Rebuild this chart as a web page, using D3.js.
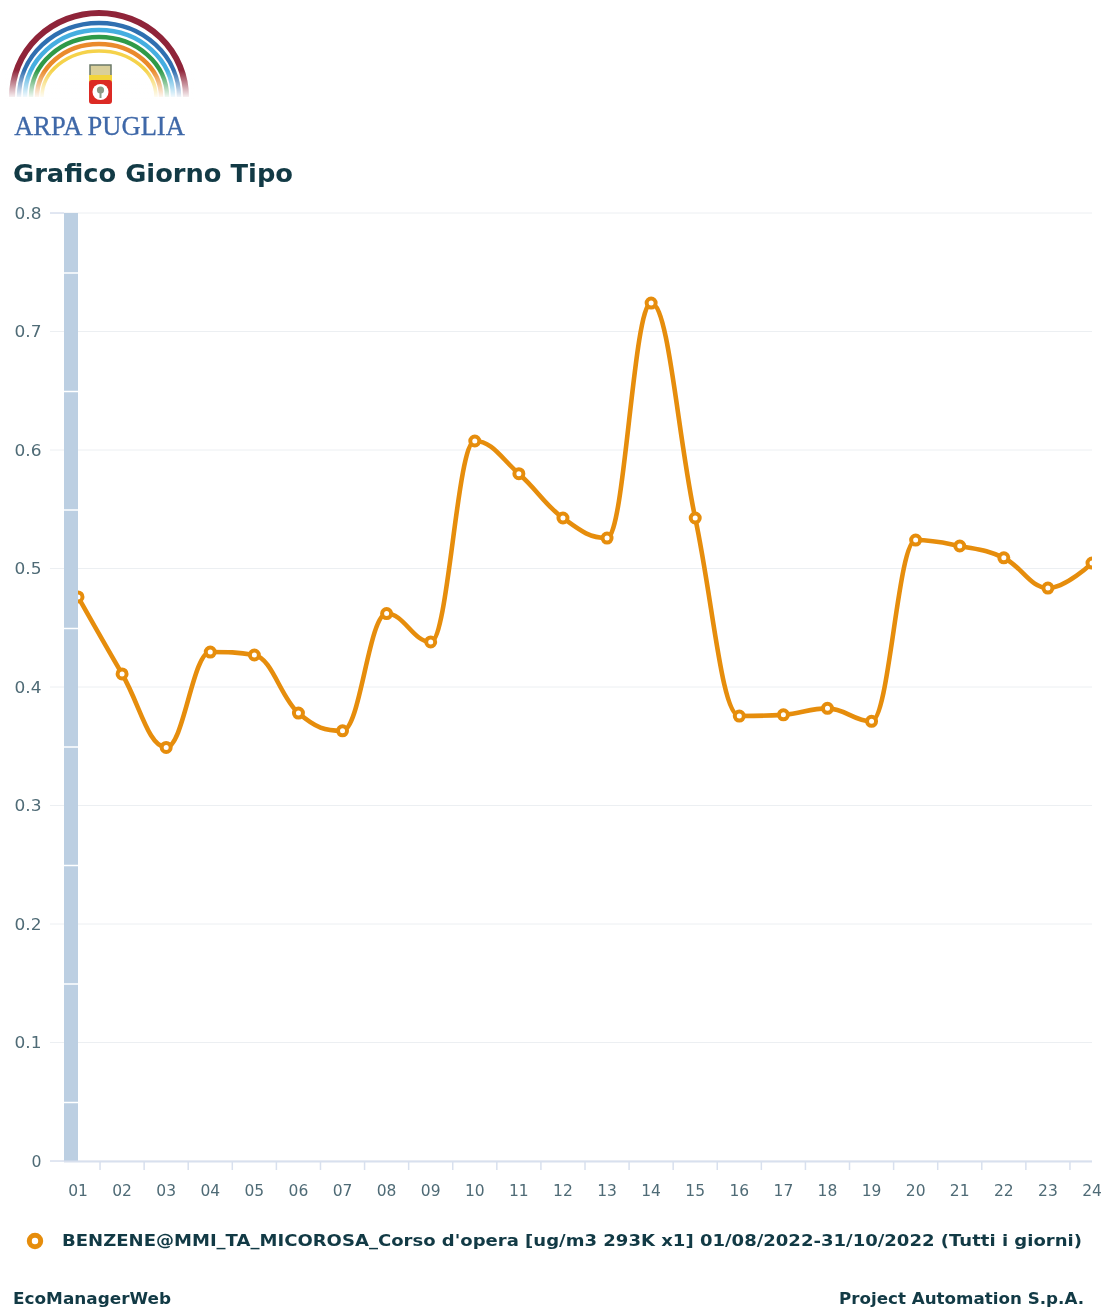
<!DOCTYPE html>
<html><head><meta charset="utf-8">
<script src="https://cdn.jsdelivr.net/npm/d3@7"></script>
<style>
html,body{margin:0;padding:0;background:#fff;overflow:hidden}
svg{display:block;font-family:"DejaVu Sans",Verdana,sans-serif;filter:blur(0.6px)}
</style></head><body>
<svg id="c" width="1107" height="1308"></svg>
<script>
const hours = ["01","02","03","04","05","06","07","08","09","10","11","12","13","14","15","16","17","18","19","20","21","22","23","24"];
const benzene = [0.476,0.411,0.349,0.4295,0.427,0.378,0.363,0.462,0.438,0.6076,0.58,0.5426,0.5257,0.724,0.5426,0.3755,0.3765,0.382,0.371,0.524,0.519,0.509,0.4835,0.5046];
const yTicks = [0,0.1,0.2,0.3,0.4,0.5,0.6,0.7,0.8];
const bandEdges = [0,0.05,0.15,0.25,0.35,0.45,0.55,0.65,0.75,0.8];
const seriesName = "BENZENE@MMI_TA_MICOROSA_Corso d'opera [ug/m3 293K x1] 01/08/2022-31/10/2022 (Tutti i giorni)";
const titleText = "Grafico Giorno Tipo";
const footerLeft = "EcoManagerWeb";
const footerRight = "Project Automation S.p.A.";
const rainbow = [
  {c:"#8f2439",rx:87,ry:84,w:6},
  {c:"#2f6fb0",rx:80,ry:74,w:4.4},
  {c:"#45aee0",rx:74,ry:67,w:4.4},
  {c:"#2f9a48",rx:68,ry:60,w:4.4},
  {c:"#ea8a2c",rx:62,ry:53,w:4.4},
  {c:"#f5d24a",rx:57,ry:46,w:3.6}
];

const svg = d3.select("#c");
const ink = "#123a45", tickInk = "#4f6b76", orange = "#e68d0c";
const x = d3.scaleLinear().domain([0,23]).range([78,1092]);
const y = d3.scaleLinear().domain([0,0.8]).range([1161,213]);

const defs = svg.append("defs");
const fade = defs.append("linearGradient").attr("id","fade").attr("gradientUnits","userSpaceOnUse").attr("x1",0).attr("x2",0).attr("y1",70).attr("y2",99);
fade.append("stop").attr("offset",0).attr("stop-color","#fff").attr("stop-opacity",0);
fade.append("stop").attr("offset",1).attr("stop-color","#fff").attr("stop-opacity",1);
defs.append("clipPath").attr("id","plot").append("rect").attr("x",78).attr("y",200).attr("width",1014).attr("height",970);

const root = svg.append("g");

// Logo
const logo = root.append("g").attr("class","logo");
rainbow.forEach(a=>{
  const cx=99, cy=97;
  logo.append("path")
    .attr("d",`M${cx-a.rx},${cy}A${a.rx},${a.ry} 0 0 1 ${cx+a.rx},${cy}`)
    .attr("fill","none").attr("stroke",a.c).attr("stroke-width",a.w);
});
logo.append("rect").attr("x",5).attr("y",70).attr("width",190).attr("height",30).attr("fill","url(#fade)");
logo.append("rect").attr("x",90).attr("y",65).attr("width",21).attr("height",11).attr("fill","#d9cf9a").attr("stroke","#6b7a68").attr("stroke-width",1.5);
logo.append("rect").attr("x",89).attr("y",75).attr("width",23).attr("height",7).attr("fill","#f2d43c");
logo.append("rect").attr("x",89).attr("y",80).attr("width",23).attr("height",24).attr("fill","#dc2a24").attr("rx",3);
logo.append("circle").attr("cx",100.5).attr("cy",92).attr("r",8).attr("fill","#fff");
logo.append("circle").attr("cx",100.5).attr("cy",90).attr("r",3.6).attr("fill","#8b9a86");
logo.append("rect").attr("x",99.5).attr("y",90).attr("width",2).attr("height",8).attr("fill","#8b9a86");
logo.append("text").attr("x",99.5).attr("y",135).attr("text-anchor","middle")
  .attr("font-family","'Liberation Serif',serif").attr("font-size",26.5).attr("fill","#3f68a8")
  .attr("stroke","#3f68a8").attr("stroke-width",0.3).text("ARPA PUGLIA");

// Title
root.append("text").attr("x",13).attr("y",182).attr("font-size",25.5).attr("font-weight",700).attr("fill",ink)
  .attr("textLength",280).attr("lengthAdjust","spacingAndGlyphs").text(titleText);

// Grid
root.append("g").selectAll("line").data(yTicks).join("line")
  .attr("x1",50).attr("x2",1092).attr("y1",d=>y(d)).attr("y2",d=>y(d))
  .attr("stroke","#eceff2").attr("stroke-width",1);

// Band on the left: stacked segments
const bands = d3.pairs(bandEdges);
root.append("g").selectAll("rect").data(bands).join("rect")
  .attr("x",64).attr("width",14)
  .attr("y",d=>y(d[1])+(d[1]<0.8?1.5:0)).attr("height",d=>y(d[0])-y(d[1])-(d[1]<0.8?1.5:0))
  .attr("fill","#bccfe2");

// Y axis labels and end ticks
root.append("g").selectAll("text").data(yTicks).join("text")
  .attr("x",41.5).attr("y",d=>y(d)+5.5).attr("text-anchor","end")
  .attr("font-size",15.5).attr("fill",tickInk)
  .attr("textLength",d=>d===0?10:27).attr("lengthAdjust","spacingAndGlyphs")
  .text(d=>d3.format("~g")(d));
root.append("g").selectAll("line").data([0,0.8]).join("line")
  .attr("x1",50).attr("x2",64).attr("y1",d=>y(d)).attr("y2",d=>y(d))
  .attr("stroke","#ccd6eb").attr("stroke-width",1);

// X axis
root.append("line").attr("x1",64).attr("x2",1092).attr("y1",1161.5).attr("y2",1161.5).attr("stroke","#d8e0ee").attr("stroke-width",2);
root.append("g").selectAll("line").data(hours.slice(0,-1)).join("line")
  .attr("x1",(d,i)=>x(i+0.5)).attr("x2",(d,i)=>x(i+0.5)).attr("y1",1162).attr("y2",1170)
  .attr("stroke","#d8e0ee").attr("stroke-width",1.5);
root.append("g").selectAll("text").data(hours).join("text")
  .attr("x",(d,i)=>x(i)).attr("y",1196).attr("text-anchor","middle")
  .attr("font-size",15.5).attr("fill",tickInk).text(d=>d);

// Spline: same control point rule as the original chart's spline series
function splineCurve(context){
  let pts;
  return {
    lineStart(){pts=[];},
    point(a,b){pts.push([a,b]);},
    lineEnd(){
      const s=1.5,d=2.5,c=[];
      pts.forEach((p,i)=>{
        const last=pts[i-1],next=pts[i+1];
        if(!last||!next){c.push(null);return;}
        const lx=(s*p[0]+last[0])/d, rx=(s*p[0]+next[0])/d;
        let ly=(s*p[1]+last[1])/d, ry=(s*p[1]+next[1])/d;
        const k=((ry-ly)*(rx-p[0]))/(rx-lx)+p[1]-ry;
        ly+=k; ry+=k;
        if(ly>last[1]&&ly>p[1]){ly=Math.max(last[1],p[1]);ry=2*p[1]-ly;}
        else if(ly<last[1]&&ly<p[1]){ly=Math.min(last[1],p[1]);ry=2*p[1]-ly;}
        if(ry>next[1]&&ry>p[1]){ry=Math.max(next[1],p[1]);ly=2*p[1]-ry;}
        else if(ry<next[1]&&ry<p[1]){ry=Math.min(next[1],p[1]);ly=2*p[1]-ry;}
        c.push({lx,ly,rx,ry});
      });
      pts.forEach((p,i)=>{
        if(i===0){context.moveTo(p[0],p[1]);return;}
        const a=c[i-1]||{rx:pts[i-1][0],ry:pts[i-1][1]};
        const b=c[i]||{lx:p[0],ly:p[1]};
        context.bezierCurveTo(a.rx,a.ry,b.lx,b.ly,p[0],p[1]);
      });
    }
  };
}
const line = d3.line().x((d,i)=>x(i)).y(d=>y(d)).curve(splineCurve);
const plot = root.append("g").attr("clip-path","url(#plot)");
plot.append("path").datum(benzene).attr("d",line).attr("fill","none").attr("stroke",orange).attr("stroke-width",4.6).attr("stroke-linejoin","round");
plot.append("g").selectAll("circle").data(benzene).join("circle")
  .attr("cx",(d,i)=>x(i)).attr("cy",d=>y(d)).attr("r",4.5)
  .attr("fill","#fff").attr("stroke",orange).attr("stroke-width",4);

// Legend
root.append("circle").attr("cx",35).attr("cy",1241).attr("r",5.7).attr("fill","#fff").attr("stroke",orange).attr("stroke-width",5);
root.append("text").attr("x",62).attr("y",1246).attr("font-size",16).attr("font-weight",700).attr("fill",ink)
  .attr("textLength",1020).attr("lengthAdjust","spacingAndGlyphs").text(seriesName);

// Footer
root.append("text").attr("x",13).attr("y",1304).attr("font-size",15.5).attr("font-weight",700).attr("fill",ink)
  .attr("textLength",158).attr("lengthAdjust","spacingAndGlyphs").text(footerLeft);
root.append("text").attr("x",839).attr("y",1304).attr("font-size",15.5).attr("font-weight",700).attr("fill",ink)
  .attr("textLength",245).attr("lengthAdjust","spacingAndGlyphs").text(footerRight);
</script>
</body></html>
